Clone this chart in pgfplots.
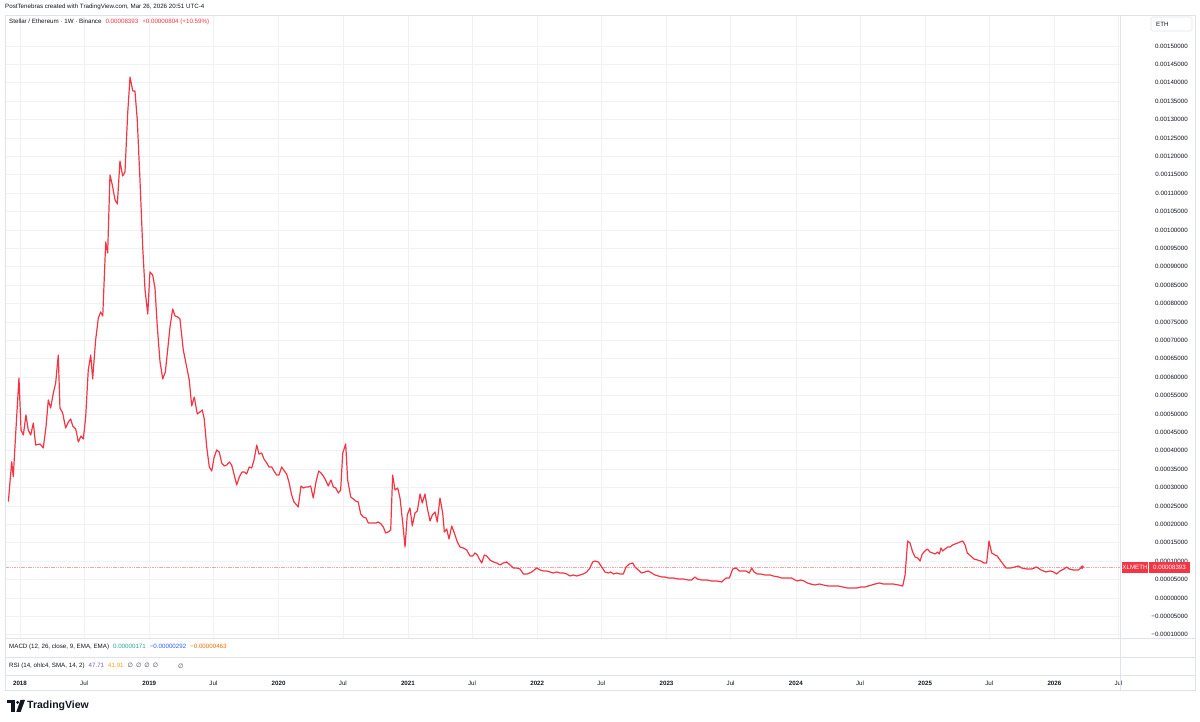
\documentclass[border=0pt]{standalone}
\usepackage{pgfplots}
\pgfplotsset{compat=1.18}
\usepackage{pgfplotstable}
\usepackage{fontspec}
\setmainfont{Liberation Sans}
\newfontfamily\symfont{DejaVu Sans}
\definecolor{tvred}{HTML}{F23645}
\definecolor{pricepink}{HTML}{F7A3AC}
\definecolor{gridc}{HTML}{F0F1F4}
\definecolor{framec}{HTML}{E0E3EB}
\definecolor{txt}{HTML}{131722}
\definecolor{macdteal}{HTML}{22AB94}
\definecolor{macdblue}{HTML}{2962FF}
\definecolor{macdorange}{HTML}{FF6D00}
\definecolor{rsipurple}{HTML}{7E57C2}
\definecolor{rsiyellow}{HTML}{F7A21B}
\definecolor{nullgray}{HTML}{434651}
\newcommand{\tvf}{\fontsize{6.2}{7.5}\selectfont}

\pgfplotstableread{
t v
2017.910 0.0002617
2017.936 0.0003704
2017.948 0.0003296
2017.967 0.0004484
2017.992 0.0005978
2018.008 0.0004565
2018.026 0.0004429
2018.046 0.0004973
2018.064 0.0004565
2018.083 0.0004429
2018.103 0.0004755
2018.121 0.0004158
2018.155 0.0004185
2018.180 0.0004076
2018.201 0.0004647
2018.219 0.0005380
2018.237 0.0005163
2018.258 0.0005571
2018.276 0.0005842
2018.296 0.0006603
2018.309 0.0005163
2018.330 0.0005027
2018.353 0.0004620
2018.374 0.0004783
2018.392 0.0004864
2018.408 0.0004674
2018.431 0.0004592
2018.451 0.0004239
2018.472 0.0004402
2018.490 0.0004321
2018.508 0.0004919
2018.528 0.0006196
2018.547 0.0006603
2018.562 0.0005951
2018.585 0.0007011
2018.606 0.0007609
2018.624 0.0007772
2018.640 0.0007663
2018.663 0.0009674
2018.678 0.0009375
2018.696 0.0011495
2018.714 0.0011223
2018.735 0.0010815
2018.753 0.0010707
2018.773 0.0011875
2018.794 0.0011467
2018.812 0.0011576
2018.833 0.0013179
2018.851 0.0014158
2018.872 0.0013777
2018.889 0.0013777
2018.907 0.0012989
2018.928 0.0011359
2018.949 0.0009538
2018.967 0.0008370
2018.988 0.0007717
2019.005 0.0008859
2019.026 0.0008777
2019.044 0.0008424
2019.062 0.0007364
2019.083 0.0006413
2019.104 0.0005951
2019.124 0.0006141
2019.142 0.0006739
2019.160 0.0007364
2019.181 0.0007853
2019.199 0.0007663
2019.220 0.0007636
2019.237 0.0007582
2019.263 0.0006739
2019.289 0.0006277
2019.309 0.0005924
2019.328 0.0005217
2019.348 0.0005462
2019.371 0.0005000
2019.392 0.0005054
2019.410 0.0005109
2019.425 0.0004864
2019.444 0.0004103
2019.464 0.0003560
2019.483 0.0003451
2019.500 0.0003804
2019.521 0.0004022
2019.541 0.0003967
2019.560 0.0003668
2019.580 0.0003587
2019.599 0.0003614
2019.619 0.0003696
2019.637 0.0003614
2019.657 0.0003342
2019.676 0.0003071
2019.696 0.0003288
2019.717 0.0003424
2019.735 0.0003424
2019.753 0.0003370
2019.773 0.0003560
2019.792 0.0003533
2019.810 0.0003750
2019.831 0.0004158
2019.848 0.0003913
2019.869 0.0003940
2019.887 0.0003777
2019.908 0.0003668
2019.926 0.0003560
2019.947 0.0003560
2019.964 0.0003451
2019.985 0.0003342
2020.003 0.0003342
2020.024 0.0003560
2020.044 0.0003451
2020.062 0.0003370
2020.080 0.0003152
2020.101 0.0002799
2020.119 0.0002609
2020.140 0.0002527
2020.152 0.0002473
2020.173 0.0003043
2020.191 0.0002989
2020.212 0.0003016
2020.230 0.0003016
2020.248 0.0003043
2020.268 0.0002717
2020.289 0.0003152
2020.310 0.0003451
2020.328 0.0003397
2020.346 0.0003315
2020.367 0.0003179
2020.384 0.0003043
2020.405 0.0003207
2020.423 0.0003016
2020.442 0.0002989
2020.462 0.0002853
2020.480 0.0002935
2020.496 0.0003940
2020.519 0.0004185
2020.534 0.0003207
2020.558 0.0002745
2020.578 0.0002690
2020.596 0.0002636
2020.616 0.0002609
2020.635 0.0002283
2020.655 0.0002201
2020.676 0.0002174
2020.694 0.0002038
2020.712 0.0002038
2020.732 0.0002038
2020.753 0.0002038
2020.771 0.0002065
2020.792 0.0002011
2020.810 0.0001929
2020.828 0.0001766
2020.848 0.0001793
2020.867 0.0001848
2020.882 0.0003342
2020.900 0.0002935
2020.921 0.0002989
2020.939 0.0002717
2020.960 0.0002038
2020.978 0.0001386
2020.995 0.0002255
2021.016 0.0002446
2021.034 0.0001957
2021.055 0.0002310
2021.073 0.0002364
2021.094 0.0002826
2021.111 0.0002582
2021.132 0.0002826
2021.150 0.0002446
2021.171 0.0002092
2021.189 0.0002255
2021.210 0.0002337
2021.227 0.0002065
2021.248 0.0002717
2021.269 0.0002310
2021.282 0.0001793
2021.300 0.0001875
2021.318 0.0001603
2021.339 0.0001957
2021.359 0.0001766
2021.382 0.0001522
2021.403 0.0001386
2021.429 0.0001359
2021.455 0.0001304
2021.480 0.0001141
2021.501 0.0001141
2021.519 0.0001223
2021.537 0.0001168
2021.552 0.0001060
2021.571 0.0000951
2021.591 0.0001168
2021.609 0.0001141
2021.635 0.0001033
2021.661 0.0000978
2021.687 0.0000951
2021.712 0.0000897
2021.738 0.0000951
2021.764 0.0000978
2021.790 0.0000897
2021.815 0.0000815
2021.841 0.0000815
2021.867 0.0000788
2021.893 0.0000652
2021.924 0.0000652
2021.958 0.0000707
2021.996 0.0000815
2022.022 0.0000761
2022.047 0.0000734
2022.073 0.0000734
2022.099 0.0000707
2022.125 0.0000679
2022.151 0.0000707
2022.176 0.0000679
2022.202 0.0000679
2022.228 0.0000652
2022.254 0.0000598
2022.279 0.0000625
2022.305 0.0000598
2022.331 0.0000625
2022.357 0.0000652
2022.383 0.0000707
2022.408 0.0000815
2022.429 0.0000978
2022.447 0.0001005
2022.473 0.0000978
2022.499 0.0000842
2022.524 0.0000707
2022.550 0.0000679
2022.568 0.0000707
2022.589 0.0000652
2022.615 0.0000679
2022.640 0.0000652
2022.666 0.0000652
2022.687 0.0000842
2022.712 0.0000924
2022.739 0.0000951
2022.756 0.0000842
2022.782 0.0000761
2022.808 0.0000679
2022.834 0.0000707
2022.859 0.0000734
2022.885 0.0000679
2022.911 0.0000625
2022.937 0.0000598
2022.963 0.0000571
2022.988 0.0000571
2023.014 0.0000543
2023.053 0.0000543
2023.091 0.0000516
2023.130 0.0000516
2023.169 0.0000489
2023.195 0.0000489
2023.220 0.0000571
2023.238 0.0000516
2023.272 0.0000489
2023.311 0.0000489
2023.350 0.0000462
2023.388 0.0000462
2023.427 0.0000435
2023.460 0.0000543
2023.486 0.0000543
2023.512 0.0000788
2023.538 0.0000815
2023.563 0.0000734
2023.589 0.0000734
2023.615 0.0000734
2023.640 0.0000679
2023.659 0.0000815
2023.677 0.0000707
2023.702 0.0000652
2023.729 0.0000652
2023.762 0.0000625
2023.801 0.0000625
2023.826 0.0000598
2023.865 0.0000571
2023.891 0.0000543
2023.930 0.0000543
2023.968 0.0000543
2023.994 0.0000489
2024.012 0.0000462
2024.038 0.0000489
2024.063 0.0000462
2024.089 0.0000408
2024.115 0.0000380
2024.148 0.0000353
2024.182 0.0000380
2024.213 0.0000353
2024.251 0.0000326
2024.290 0.0000326
2024.329 0.0000326
2024.363 0.0000299
2024.398 0.0000272
2024.440 0.0000272
2024.476 0.0000272
2024.502 0.0000299
2024.535 0.0000299
2024.561 0.0000326
2024.587 0.0000353
2024.613 0.0000380
2024.646 0.0000408
2024.677 0.0000380
2024.715 0.0000380
2024.754 0.0000380
2024.793 0.0000353
2024.827 0.0000326
2024.845 0.0000625
2024.865 0.0001549
2024.883 0.0001495
2024.904 0.0001250
2024.922 0.0001114
2024.943 0.0001087
2024.961 0.0001005
2024.978 0.0001196
2024.999 0.0001277
2025.017 0.0001332
2025.038 0.0001250
2025.059 0.0001223
2025.077 0.0001196
2025.097 0.0001250
2025.110 0.0001196
2025.123 0.0001359
2025.136 0.0001277
2025.154 0.0001332
2025.175 0.0001386
2025.193 0.0001386
2025.213 0.0001440
2025.231 0.0001467
2025.252 0.0001495
2025.270 0.0001522
2025.291 0.0001549
2025.309 0.0001440
2025.326 0.0001223
2025.353 0.0001141
2025.378 0.0001060
2025.404 0.0001033
2025.430 0.0001005
2025.456 0.0000951
2025.476 0.0000951
2025.494 0.0001549
2025.515 0.0001223
2025.541 0.0001168
2025.558 0.0001141
2025.585 0.0001005
2025.626 0.0000815
2025.662 0.0000815
2025.695 0.0000842
2025.721 0.0000870
2025.747 0.0000815
2025.786 0.0000788
2025.824 0.0000788
2025.863 0.0000842
2025.896 0.0000761
2025.935 0.0000707
2025.966 0.0000734
2025.992 0.0000707
2026.018 0.0000652
2026.043 0.0000734
2026.074 0.0000788
2026.095 0.0000842
2026.115 0.0000788
2026.146 0.0000761
2026.185 0.0000761
2026.215 0.00008393
}\xlmeth

\begin{document}
\begin{tikzpicture}[x=1pt,y=1pt]
\path[use as bounding box, fill=white] (0,0) rectangle (1200,722);

\begin{axis}[
  at={(5pt,84pt)}, anchor=south west,
  scale only axis, width=1115pt, height=623pt,
  xmin=2017.884, xmax=2026.507,
  ymin=-0.0001087, ymax=0.0015842,
  axis line style={draw=none},
  major tick length=0pt,
  grid=major, grid style={color=gridc, line width=0.6pt},
  scaled x ticks=false, scaled y ticks=false,
  xtick={2018,2018.496,2019,2019.496,2020,2020.497,2021,2021.496,2022,2022.496,2023,2023.496,2024,2024.497,2025,2025.496,2026,2026.496},
  xticklabels={\textbf{2018},Jul,\textbf{2019},Jul,\textbf{2020},Jul,\textbf{2021},Jul,\textbf{2022},Jul,\textbf{2023},Jul,\textbf{2024},Jul,\textbf{2025},Jul,\textbf{2026},Jul},
  xticklabel style={anchor=center, yshift=-45pt, font=\tvf, text=txt},
  ytick={-0.0001,-0.00005,0,0.00005,0.0001,0.00015,0.0002,0.00025,0.0003,0.00035,0.0004,0.00045,0.0005,0.00055,0.0006,0.00065,0.0007,0.00075,0.0008,0.00085,0.0009,0.00095,0.001,0.00105,0.0011,0.00115,0.0012,0.00125,0.0013,0.00135,0.0014,0.00145,0.0015},
  yticklabels={−0.00010000,−0.00005000,0.00000000,0.00005000,0.00010000,0.00015000,0.00020000,0.00025000,0.00030000,0.00035000,0.00040000,0.00045000,0.00050000,0.00055000,0.00060000,0.00065000,0.00070000,0.00075000,0.00080000,0.00085000,0.00090000,0.00095000,0.00100000,0.00105000,0.00110000,0.00115000,0.00120000,0.00125000,0.00130000,0.00135000,0.00140000,0.00145000,0.00150000},
  yticklabel pos=right,
  yticklabel style={anchor=east, xshift=68pt, inner sep=0pt, font=\tvf, text=txt},
  clip=false,
]
\addplot[pricepink, line width=0.7pt, dash pattern=on 1.5pt off 0.8pt] coordinates {(2017.884,0.00008393) (2026.507,0.00008393)};
\addplot[tvred, line width=1.2pt, line join=round, mark=none] table[x=t,y=v] {\xlmeth};
\addplot[tvred, only marks, mark=*, mark size=1.6pt] coordinates {(2026.215,0.00008393)};
\end{axis}

% frame and separators
\draw[framec, line width=0.6pt] (5,707) rectangle (1195,32);
\draw[framec, line width=0.6pt] (5,84) -- (1195,84);
\draw[framec, line width=0.6pt] (5,65) -- (1195,65);
\draw[framec, line width=0.6pt] (5,47) -- (1195,47);
\draw[framec, line width=0.6pt] (1120,707) -- (1120,32);

% header
\node[anchor=west, inner sep=0pt, font=\tvf, text=txt] at (5,715) {PostTenebras created with TradingView.com, Mar 26, 2026 20:51 UTC-4};
\node[anchor=west, inner sep=0pt, font=\tvf, text=txt] at (9,700) {Stellar / Ethereum · 1W · Binance\hspace{4pt}\textcolor{tvred}{0.00008393\hspace{4pt}+0.00000804 (+10.59\%)}};

% ETH box
\draw[framec, line width=0.6pt, rounded corners=1.5pt, fill=white] (1151,705) rectangle (1192,691);
\node[anchor=west, inner sep=0pt, font=\tvf, text=txt] at (1156,698) {ETH};

% last price label
\fill[tvred] (1122,160) rectangle (1148,149);
\fill[tvred] (1149,160) rectangle (1190,149);
\node[inner sep=0pt, font=\tvf, text=white] at (1135,154.5) {XLMETH};
\node[inner sep=0pt, font=\tvf, text=white] at (1169.5,154.5) {0.00008393};

% indicator rows
\node[anchor=west, inner sep=0pt, font=\tvf, text=txt] at (9,75) {MACD (12, 26, close, 9, EMA, EMA)\hspace{4pt}\textcolor{macdteal}{0.00000171}\hspace{4pt}\textcolor{macdblue}{−0.00000292}\hspace{4pt}\textcolor{macdorange}{−0.00000463}};
\node[anchor=west, inner sep=0pt, font=\tvf, text=txt] at (9,56) {RSI (14, ohlc4, SMA, 14, 2)\hspace{4pt}\textcolor{rsipurple}{47.71}\hspace{4pt}\textcolor{rsiyellow}{41.91}\hspace{4pt}\textcolor{nullgray}{\symfont ∅\hspace{3pt}∅\hspace{3pt}∅\hspace{3pt}∅}};
\node[anchor=west, inner sep=0pt, font=\tvf, text=nullgray] at (178,56) {\symfont ∅};

% TradingView logo
\fill[txt] (7,22) rectangle (14.5,18.8);
\fill[txt] (11.2,22) rectangle (14.5,10);
\fill[txt] (17.6,19.6) circle (1.7);
\fill[txt] (20.5,22) -- (25,22) -- (20.6,10) -- (16.3,10) -- cycle;
\node[anchor=west, inner sep=0pt, font=\fontsize{10.5}{12}\selectfont\bfseries, text=txt] at (27,16) {TradingView};
\end{tikzpicture}
\end{document}
